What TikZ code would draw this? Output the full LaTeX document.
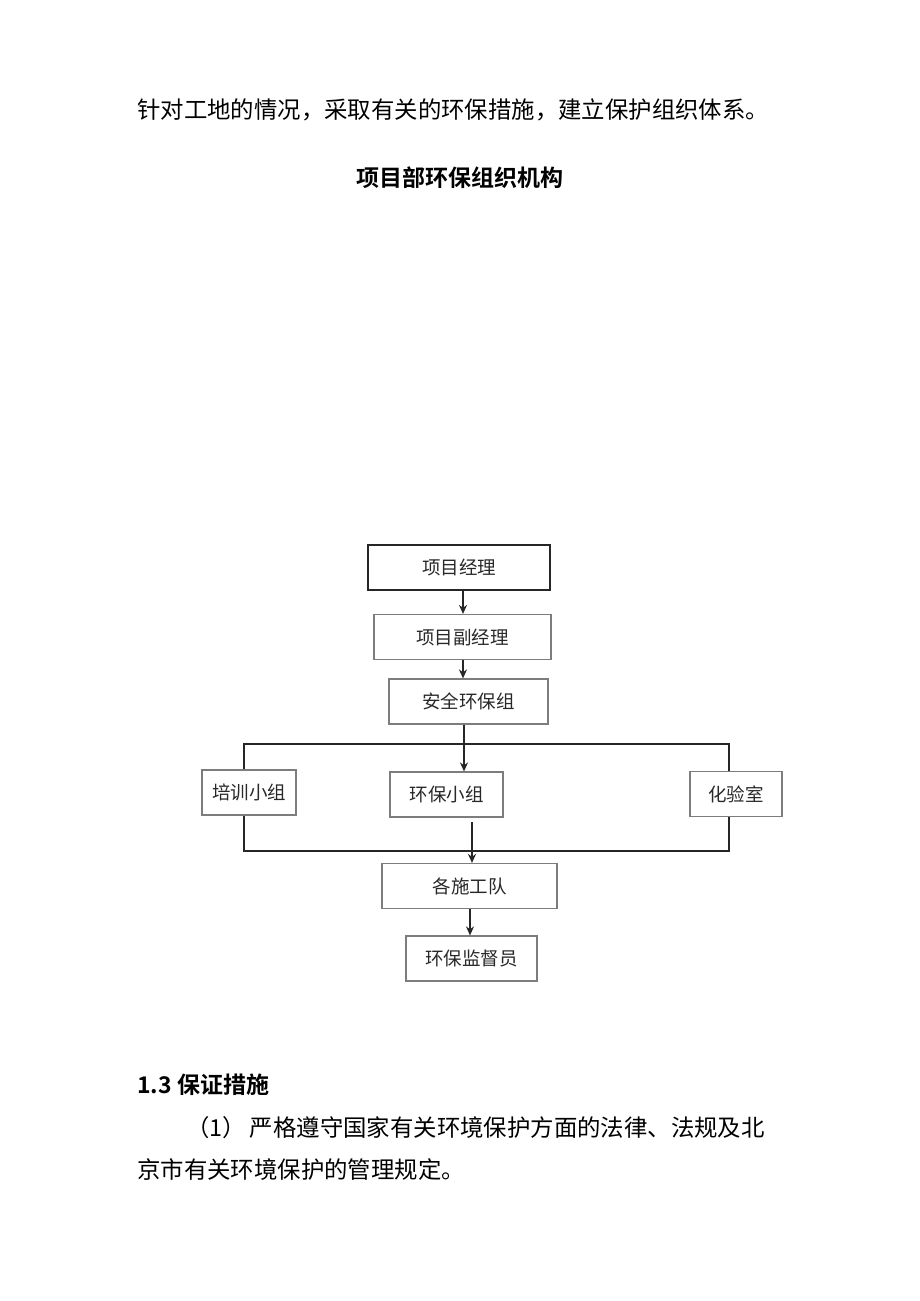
\documentclass[tikz,border=0pt]{standalone}
\usepackage{fontspec}
\newfontfamily\cjk{Noto Sans CJK SC}
\newfontfamily\cjkb{Noto Sans CJK SC Bold}
\usetikzlibrary{arrows.meta}
\definecolor{boxgray}{RGB}{125,125,125}
\definecolor{txt}{RGB}{40,40,40}
\tikzset{
  box/.style={draw=boxgray, line width=1.2pt, minimum height=45pt, inner sep=0pt, font=\cjk\fontsize{18.5}{18.5}\selectfont, text=txt},
  topbox/.style={box, draw=black!85, line width=2pt},
  conn/.style={line width=1.8pt, black!85},
  arr/.style={conn, -{Stealth[length=9pt,width=8pt]}},
  body/.style={anchor=west, inner sep=0pt, font=\cjk\fontsize{23.4}{23.4}\selectfont, text=black},
  bodyb/.style={body, font=\cjkb\fontsize{23}{23}\selectfont},
}
\begin{document}
\begin{tikzpicture}[x=1pt,y=-1pt]
\useasboundingbox (0,0) rectangle (920,1301);
\fill[white] (0,0) rectangle (920,1301);
% text
\node[body] (t1) at (137,110) {针对工地的情况，采取有关的环保措施，建立保护组织体系。};
\node[bodyb, anchor=center] (title) at (460,178) {项目部环保组织机构};
\node[bodyb] (h13) at (137,1085) {1.3 保证措施};
\node[body] (p1) at (186,1128) {（1）\hspace{4pt}严格遵守国家有关环境保护方面的法律、法规及北};
\node[body] (p2) at (137,1170) {京市有关环境保护的管理规定。};
% boxes
\node[topbox, minimum width=182pt] (pm) at (459,567.5) {项目经理};
\node[box, minimum width=177pt] (dpm) at (462.5,637) {项目副经理};
\node[box, minimum width=159pt] (aq) at (468.5,701.5) {安全环保组};
\node[box, minimum width=94pt] (px) at (249,792.5) {培训小组};
\node[box, minimum width=113pt] (hb) at (446.5,794.5) {环保小组};
\node[box, minimum width=92pt] (hy) at (736,794) {化验室};
\node[box, minimum width=175pt] (sg) at (469.5,886) {各施工队};
\node[box, minimum width=131pt] (jd) at (471.5,958.5) {环保监督员};
% connectors
\coordinate (b1l) at (244,744);
\coordinate (b1r) at (729,744);
\coordinate (b2l) at (244,851);
\coordinate (b2r) at (729,851);
\coordinate (hbout) at (472,822);
\draw[arr] (pm.south -| 463,0) -- (dpm.north -| 463,0);
\draw[arr] (dpm.south -| 463,0) -- (aq.north -| 463,0);
\draw[arr] (aq.south -| 464,0) -- (hb.north -| 464,0);
\draw[conn] (px.north -| b1l) -- (b1l) -- (b1r) -- (hy.north -| b1r);
\draw[conn] (px.south -| b2l) -- (b2l) -- (b2r) -- (hy.south -| b2r);
\draw[arr] (hbout) -- (sg.north -| hbout);
\draw[arr] (sg.south -| 470,0) -- (jd.north -| 470,0);
\end{tikzpicture}
\end{document}
